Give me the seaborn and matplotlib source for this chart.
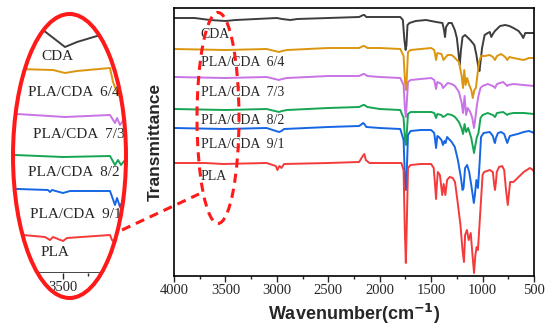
import matplotlib
matplotlib.use('Agg')
import matplotlib.pyplot as plt
from matplotlib.patches import Ellipse
from matplotlib.lines import Line2D
from matplotlib.transforms import IdentityTransform
from matplotlib.ticker import MultipleLocator, FixedLocator
import seaborn as sns
import pandas as pd

samples = ['CDA', 'PLA/CDA 6/4', 'PLA/CDA 7/3', 'PLA/CDA 8/2', 'PLA/CDA 9/1', 'PLA']
colors = ['#3d3d3d', '#DC950F', '#C873E6', '#16A653', '#1666E4', '#F43A3A']

# FTIR spectra, stacked (wavenumber in cm-1, offset transmittance)
cda_wn = [4000, 3800, 3650, 3500, 3400, 3200, 3000, 2950, 2870, 2800, 2500, 2200, 2160, 2150, 2130,
          2000, 1800, 1775, 1760, 1748, 1740, 1730, 1710, 1650, 1550, 1500, 1450, 1390, 1375, 1365,
          1355, 1330, 1300, 1270, 1250, 1235, 1222, 1210, 1195, 1170, 1150, 1120, 1080, 1060, 1040,
          1030, 1020, 1005, 980, 950, 930, 915, 900, 880, 830, 780, 740, 700, 650, 620, 605, 585, 540, 500]
cda_t = [258, 258, 256, 255, 256, 257, 258, 257, 256, 257, 258, 259, 261, 261, 259,
         259, 259, 256, 236, 226, 231, 251, 253, 255, 256, 255, 254, 253, 246, 239,
         249, 253, 253, 246, 238, 224, 211, 226, 239, 241, 239, 236, 231, 221, 208,
         205, 214, 228, 241, 243, 244, 239, 242, 245, 250, 251, 250, 248, 245, 241, 238, 243, 243, 243]

pla64_wn = [4000, 3500, 3100, 2979, 2950, 2900, 2500, 2200, 2160, 2150, 2120, 2000, 1800, 1768, 1754,
            1746, 1738, 1725, 1700, 1500, 1470, 1452, 1440, 1400, 1380, 1365, 1340, 1300, 1268, 1230,
            1205, 1190, 1178, 1165, 1150, 1130, 1110, 1095, 1080, 1065, 1050, 1035, 1015, 980, 930,
            900, 879, 860, 820, 780, 760, 740, 700, 650, 600, 550, 500]
pla64_t = [227, 226, 227, 224, 225, 226, 228, 228, 230, 230, 228, 228, 227, 220, 194,
           186, 196, 224, 226, 228, 226, 216, 223, 222, 216, 218, 221, 221, 218, 214,
           201, 188, 206, 191, 198, 191, 186, 178, 186, 188, 201, 214, 220, 220, 221,
           219, 216, 220, 222, 219, 216, 219, 218, 217, 216, 218, 218]

pla73_wn = [4000, 3500, 3100, 2979, 2950, 2900, 2500, 2200, 2160, 2150, 2120, 2000, 1800, 1768, 1754,
            1746, 1738, 1725, 1700, 1500, 1470, 1452, 1440, 1400, 1385, 1365, 1340, 1300, 1268, 1230,
            1205, 1190, 1175, 1160, 1145, 1120, 1100, 1083, 1070, 1055, 1040, 1020, 1000, 950, 900,
            879, 860, 800, 760, 750, 700, 600, 500]
pla73_t = [199, 198, 199, 196, 197, 198, 200, 200, 202, 202, 200, 199, 198, 191, 166,
           159, 171, 194, 196, 198, 196, 187, 194, 192, 188, 190, 193, 192, 190, 184,
           174, 163, 180, 161, 168, 164, 158, 148, 158, 171, 180, 188, 190, 192, 190,
           188, 192, 194, 190, 191, 192, 191, 190]

pla82_wn = [4000, 3500, 3100, 2979, 2950, 2900, 2500, 2200, 2160, 2150, 2120, 2000, 1800, 1768, 1754,
            1746, 1738, 1725, 1700, 1500, 1470, 1452, 1440, 1400, 1385, 1365, 1340, 1300, 1268, 1230,
            1205, 1190, 1175, 1160, 1140, 1110, 1083, 1070, 1055, 1040, 1020, 1000, 950, 900, 879,
            860, 800, 760, 750, 700, 600, 500]
pla82_t = [167, 166, 167, 164, 165, 166, 168, 169, 171, 171, 169, 167, 166, 158, 136,
           131, 141, 162, 164, 164, 163, 158, 162, 161, 159, 160, 162, 161, 159, 154,
           148, 142, 152, 144, 148, 138, 123, 131, 139, 143, 158, 161, 163, 161, 159,
           163, 164, 161, 162, 163, 163, 162]

pla91_wn = [4000, 3500, 3100, 2979, 2955, 2930, 2500, 2200, 2160, 2150, 2130, 2000, 1800, 1768, 1754,
            1746, 1738, 1725, 1700, 1600, 1500, 1470, 1452, 1440, 1425, 1400, 1385, 1370, 1360, 1345,
            1300, 1270, 1240, 1210, 1195, 1185, 1170, 1150, 1130, 1110, 1085, 1075, 1060, 1045, 1030,
            1015, 990, 930, 900, 885, 879, 870, 850, 820, 790, 760, 750, 735, 700, 660, 600, 550,
            520, 500]
pla91_t = [148, 147, 148, 144, 145, 147, 149, 150, 153, 152, 149, 148, 147, 136, 94,
           86, 101, 141, 145, 146, 146, 143, 128, 140, 139, 136, 131, 135, 133, 139,
           134, 129, 116, 98, 86, 88, 108, 111, 104, 91, 73, 81, 96, 88, 111,
           139, 143, 144, 140, 134, 133, 138, 143, 144, 142, 133, 136, 140, 141, 142, 144, 145,
           144, 143]

pla_wn = [4000, 3700, 3520, 3100, 3010, 2995, 2975, 2955, 2930, 2500, 2200, 2165, 2150, 2135, 2100,
          1850, 1790, 1768, 1756, 1746, 1738, 1725, 1700, 1600, 1500, 1475, 1462, 1452, 1445, 1435,
          1415, 1392, 1378, 1362, 1345, 1320, 1290, 1268, 1245, 1215, 1195, 1181, 1170, 1152, 1135,
          1115, 1098, 1083, 1070, 1058, 1045, 1030, 1015, 1000, 985, 930, 900, 887, 879, 870,
          862, 840, 810, 790, 772, 755, 745, 732, 700, 660, 600, 540, 510, 500]
pla_t = [113, 113, 112, 113, 110, 106, 110, 108, 112, 113, 114, 120, 122, 116, 113,
         113, 113, 106, 46, 13, 46, 108, 111, 112, 112, 108, 91, 77, 91, 104,
         101, 81, 92, 81, 96, 99, 98, 94, 76, 51, 26, 14, 41, 46, 36,
         43, 21, 3, 21, 29, 26, 51, 76, 101, 104, 106, 104, 91, 86, 94,
         104, 109, 110, 106, 86, 71, 81, 94, 94, 98, 104, 108, 106, 104]

# zoomed view of the 4000-2870 cm-1 region (inset)
in_cda_wn = [4000, 3800, 3700, 3480, 3360, 3160, 2870]
in_cda_t = [249, 246, 243, 226, 231, 237, 239]
in_pla64_wn = [4000, 3960, 3600, 3480, 3360, 3030, 3000, 2950, 2870]
in_pla64_t = [204, 204, 203, 200, 202, 205, 191, 178, 173]
in_pla73_wn = [4000, 3960, 3480, 3030, 2980, 2960, 2930, 2880, 2870]
in_pla73_t = [159, 159, 156, 158, 150, 155, 148, 155, 155]
in_pla82_wn = [4000, 3980, 3500, 3030, 2980, 2950, 2920, 2880, 2870]
in_pla82_t = [118, 118, 116, 117, 108, 113, 108, 113, 113]
in_pla91_wn = [4000, 3950, 3650, 3630, 3610, 3500, 3430, 3030, 2980, 2960, 2930, 2900, 2870]
in_pla91_t = [84, 84, 83, 81, 83, 80, 82, 82, 68, 75, 66, 73, 73]
in_pla_wn = [4000, 3900, 3680, 3630, 3600, 3500, 3460, 3030, 3010, 2950, 2870]
in_pla_t = [38, 38, 36, 33, 36, 32, 35, 38, 33, 28, 33]

main_wn = [cda_wn, pla64_wn, pla73_wn, pla82_wn, pla91_wn, pla_wn]
main_t = [cda_t, pla64_t, pla73_t, pla82_t, pla91_t, pla_t]
inset_wn = [in_cda_wn, in_pla64_wn, in_pla73_wn, in_pla82_wn, in_pla91_wn, in_pla_wn]
inset_t = [in_cda_t, in_pla64_t, in_pla73_t, in_pla82_t, in_pla91_t, in_pla_t]


def long_table(wns, ts):
    frames = [pd.DataFrame({'wn': w, 'T': t, 'sample': s}) for w, t, s in zip(wns, ts, samples)]
    return pd.concat(frames, ignore_index=True)


sns.set_style('ticks')
plt.rcParams['font.family'] = ['Liberation Serif', 'DejaVu Serif']

fig = plt.figure(figsize=(5.5, 3.32), dpi=100)
palette = dict(zip(samples, colors))

# main panel
ax = fig.add_axes([174 / 550, 56 / 332, 360 / 550, 268 / 332])
sns.lineplot(data=long_table(main_wn, main_t), x='wn', y='T', hue='sample', palette=palette,
             estimator=None, legend=False, linewidth=1.4, ax=ax)
ax.set_xlim(4000, 500)
ax.set_ylim(0, 268)
ax.xaxis.set_major_locator(MultipleLocator(500))
ax.xaxis.set_minor_locator(MultipleLocator(250))
ax.set_yticks([])
ax.tick_params(axis='x', which='major', direction='out', length=4, width=1, labelsize=10.5, pad=2)
ax.tick_params(axis='x', which='minor', direction='out', length=2.5, width=1)
for sp in ax.spines.values():
    sp.set_linewidth(1.2)
    sp.set_color('black')
ax.set_xlabel(r'Wavenumber(cm$^{\mathbf{-1}}$)', family='Liberation Sans', fontsize=13,
              fontweight='bold', labelpad=3)
ax.set_ylabel('Transmittance', family='Liberation Sans', fontsize=12.5, fontweight='bold', labelpad=8)

main_label_t = [241, 214, 184, 156, 131, 99]
for s, ty in zip(samples, main_label_t):
    ax.text(3740, ty, s.replace(' ', '  '), ha='left', va='center', fontsize=10)

# inset, clipped by the red ellipse
clip = Ellipse((69.5, 332 - 156), 113, 284, transform=IdentityTransform(), facecolor='none')
axi = fig.add_axes([13 / 550, 59 / 332, 113 / 550, 259 / 332])
axi.patch.set_visible(False)
sns.lineplot(data=long_table(inset_wn, inset_t), x='wn', y='T', hue='sample', palette=palette,
             estimator=None, legend=False, linewidth=1.4, ax=axi)
axi.set_xlim(4000, 2870)
axi.set_ylim(0, 259)
axi.set_xlabel('')
axi.set_ylabel('')
axi.set_yticks([])
axi.xaxis.set_major_locator(FixedLocator([3500]))
axi.xaxis.set_minor_locator(FixedLocator([3750, 3250]))
axi.tick_params(axis='x', which='major', direction='out', length=4, width=1, labelsize=10.5, pad=2)
axi.tick_params(axis='x', which='minor', direction='out', length=2.5, width=1)
for name in ['top', 'left', 'right']:
    axi.spines[name].set_visible(False)
axi.spines['bottom'].set_linewidth(1.2)
axi.spines['bottom'].set_clip_path(clip)
for ln in axi.get_lines():
    ln.set_clip_path(clip)

inset_label_pos = [(3560, 216), (3390, 181), (3340, 138), (3390, 100), (3370, 58), (3580, 20)]
for s, (lx, ly) in zip(samples, inset_label_pos):
    axi.text(lx, ly, s.replace(' ', '  '), ha='center', va='center', fontsize=11)

# red ellipses and connector
fig.add_artist(Ellipse((69.5, 332 - 156), 113, 284, transform=IdentityTransform(),
                       facecolor='none', edgecolor='#FF1A1A', linewidth=2.9, zorder=10))
fig.add_artist(Ellipse((218, 332 - 118), 42, 211, transform=IdentityTransform(),
                       facecolor='none', edgecolor='#FF1A1A', linewidth=2.2,
                       linestyle=(0, (3, 2)), zorder=10))
fig.add_artist(Line2D([122, 199], [332 - 230, 332 - 194], transform=IdentityTransform(),
                      color='#FF1A1A', linewidth=2.2, linestyle=(0, (3, 2)), zorder=10))

fig.savefig('out.png', dpi=100)
